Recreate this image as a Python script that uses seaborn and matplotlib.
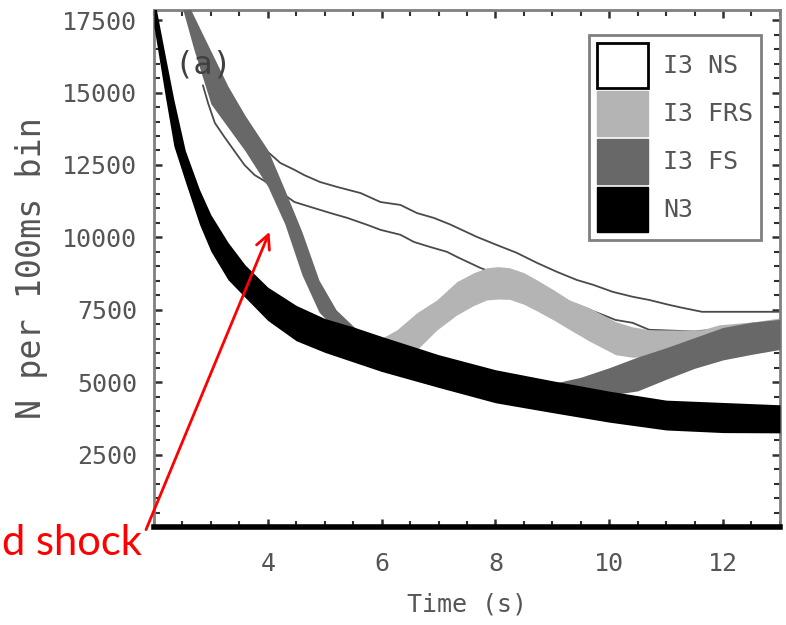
import matplotlib
matplotlib.use("Agg")
import matplotlib.pyplot as plt
import seaborn as sns
from matplotlib.patches import Patch
from matplotlib.ticker import MultipleLocator

# ---------------- data ----------------
N3_x = [2.0, 2.2, 2.35, 2.55, 2.8, 3.0, 3.3, 3.6, 4.0, 4.5, 5.0, 5.5, 6.0, 7.0, 8.0, 9.0, 10.0, 11.0, 12.0, 13.0]
N3_upper = [18300, 16250, 14750, 13000, 11650, 10780, 9830, 9050, 8280, 7650, 7200, 6910, 6580, 5950, 5430, 5050, 4690, 4380, 4300, 4220]
N3_lower = [17270, 14860, 13150, 11930, 10450, 9520, 8540, 7930, 7130, 6430, 6030, 5700, 5370, 4820, 4290, 3950, 3620, 3350, 3260, 3250]

FS_x = [2.4, 2.7, 3.0, 3.3, 3.6, 4.0, 4.3, 4.6, 4.9, 5.2, 5.6, 6.0, 7.0, 8.0, 9.0, 9.5, 10.0, 10.5, 11.0, 11.5, 12.0, 12.5, 13.0]
FS_upper = [18900, 17640, 16430, 15220, 14210, 13020, 11630, 10190, 8520, 7500, 6750, 6300, 5700, 5250, 4950, 5170, 5500, 5870, 6190, 6540, 6890, 7070, 7170]
FS_lower = [18620, 16500, 14610, 13800, 12990, 11760, 10460, 8710, 7420, 6800, 6200, 5700, 5100, 4600, 4350, 4650, 4550, 4700, 5100, 5480, 5770, 5960, 6130]

FRS_x = [5.8, 6.27, 6.62, 6.97, 7.32, 7.62, 7.85, 8.05, 8.25, 8.5, 8.73, 9.02, 9.3, 9.65, 10.11, 10.41, 10.7, 11.2, 11.63, 11.93, 12.56, 13.0]
FRS_upper = [6300, 6810, 7400, 7840, 8470, 8780, 8950, 8990, 8950, 8780, 8530, 8190, 7840, 7570, 7090, 6910, 6810, 6800, 6810, 6980, 7090, 7220]
FRS_lower = [5800, 5600, 6120, 6800, 7320, 7650, 7840, 7870, 7860, 7690, 7460, 7150, 6820, 6420, 5950, 5860, 5900, 6050, 6300, 6450, 6650, 6800]

NS_upper_x = [3.4, 3.8, 4.22, 4.47, 4.64, 4.92, 5.22, 5.63, 5.98, 6.33, 6.62, 6.92, 7.2, 7.67, 8.02, 8.37, 8.73, 9.08, 9.43, 9.72, 10.06, 10.41, 10.7, 11.05, 11.28, 11.63, 13.0]
NS_upper_y = [14300, 13300, 12570, 12330, 12150, 11910, 11740, 11530, 11220, 11120, 10840, 10670, 10450, 10020, 9740, 9470, 9120, 8810, 8530, 8360, 8120, 7950, 7840, 7670, 7570, 7430, 7430]

NS_lower_x = [2.86, 2.95, 3.07, 3.24, 3.44, 3.59, 3.77, 3.94, 4.47, 4.75, 5.1, 5.4, 5.75, 5.98, 6.33, 6.57, 6.85, 7.15, 7.32, 7.73, 8.8, 9.88, 10.11, 10.41, 10.7, 11.5, 12.5, 13.0]
NS_lower_y = [15250, 14640, 13950, 13460, 12910, 12500, 12150, 11950, 11220, 11050, 10840, 10670, 10430, 10260, 10090, 9840, 9670, 9500, 9330, 8950, 8150, 7330, 7150, 7050, 6810, 6750, 6950, 7100]

legend_labels = ["I3 NS", "I3 FRS", "I3 FS", "N3"]
x_ticks = [4, 6, 8, 10, 12]
y_ticks = [2500, 5000, 7500, 10000, 12500, 15000, 17500]

# ---------------- style ----------------
sns.set_theme(style="ticks")
plt.rcParams['font.family'] = ['DejaVu Sans Mono', 'DejaVu Sans']

TXT = '#555555'
C_FRS = '#b4b4b4'
C_FS = '#686868'
C_N3 = '#000000'

fig = plt.figure(figsize=(7.86, 6.25), dpi=100)
ax = fig.add_axes([0.1959, 0.1568, 0.7964, 0.8272])

# NS outline lines (drawn lowest)
sns.lineplot(x=NS_upper_x, y=NS_upper_y, ax=ax, color='#4a4a4a', lw=1.3,
             sort=False, estimator=None, zorder=1)
sns.lineplot(x=NS_lower_x, y=NS_lower_y, ax=ax, color='#4a4a4a', lw=1.3,
             sort=False, estimator=None, zorder=1)

# bands
ax.fill_between(FRS_x, FRS_lower, FRS_upper, color=C_FRS, lw=0, zorder=2)
ax.fill_between(FS_x, FS_lower, FS_upper, color=C_FS, lw=0, zorder=3)
ax.fill_between(N3_x, N3_lower, N3_upper, color=C_N3, lw=0, zorder=4)

ax.set_xlim(2, 13)
ax.set_ylim(0, 17850)
ax.set_xticks(x_ticks)
ax.set_yticks(y_ticks)
ax.xaxis.set_minor_locator(MultipleLocator(0.5))
ax.yaxis.set_minor_locator(MultipleLocator(500))

for s in ['left', 'top', 'right']:
    ax.spines[s].set_color('#808080')
    ax.spines[s].set_linewidth(2)
ax.spines['bottom'].set_color('black')
ax.spines['bottom'].set_linewidth(4)

ax.tick_params(which='both', direction='in', top=True, right=True, color='#303030',
               labelcolor=TXT, labelsize=18)
ax.tick_params(which='major', length=6, width=1.8)
ax.tick_params(which='minor', length=4, width=1.5)
ax.tick_params(axis='y', pad=12)
ax.tick_params(axis='x', pad=18)

ax.set_xlabel('Time (s)', fontsize=18, color=TXT, labelpad=12)
ax.set_ylabel('N per 100ms bin', fontsize=24, color=TXT, labelpad=10)

ax.text(2.86, 15950, '(a)', fontsize=23, color='#404040', ha='center', va='center', zorder=6)

handles = [
    Patch(facecolor='white', edgecolor='black', lw=2, label=legend_labels[0]),
    Patch(facecolor=C_FRS, edgecolor=C_FRS, label=legend_labels[1]),
    Patch(facecolor=C_FS, edgecolor=C_FS, label=legend_labels[2]),
    Patch(facecolor=C_N3, edgecolor=C_N3, label=legend_labels[3]),
]
leg = ax.legend(handles=handles, loc='upper right', bbox_to_anchor=(0.9696, 0.9516),
                borderaxespad=0, handlelength=2.03, handleheight=2.39, handletextpad=0.6,
                labelspacing=0.12, borderpad=0.32, fancybox=False, frameon=True,
                prop={'family': 'DejaVu Sans Mono', 'size': 18}, labelcolor=TXT)
leg.get_frame().set_edgecolor('#808080')
leg.get_frame().set_linewidth(2)
leg.get_frame().set_facecolor('white')
leg.get_frame().set_alpha(1)
leg.set_zorder(8)

# red annotation arrow and label
ax.annotate('', xy=(4.03, 10190), xytext=(1.86, -90), xycoords='data',
            arrowprops=dict(arrowstyle='->', color='red', lw=2, mutation_scale=25,
                            shrinkA=0, shrinkB=0),
            annotation_clip=False, zorder=9)
fig.text(0.0025, 0.131, 'd shock', color='red', fontsize=30,
         family=['Lato', 'DejaVu Sans'], ha='left', va='center')

fig.savefig('out.png', dpi=100)
